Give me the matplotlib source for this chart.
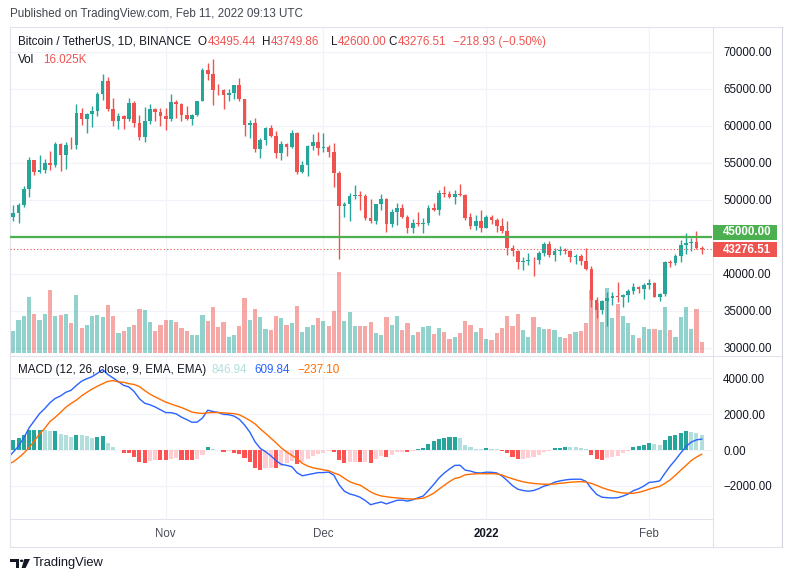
import numpy as np
import pandas as pd
import matplotlib
matplotlib.use("Agg")
import matplotlib.pyplot as plt
from matplotlib import transforms
from matplotlib.patches import Rectangle, Polygon, Circle
from matplotlib.lines import Line2D
from matplotlib.ticker import FuncFormatter

plt.rcParams["font.family"] = ["Liberation Sans", "DejaVu Sans"]

# BTCUSDT daily, 2021-10-02 .. 2022-02-11
dates = pd.date_range("2021-10-02", "2022-02-11", freq="D")

opens = [
    48141, 47634, 48200, 49225, 51471, 55315, 53785, 53955, 54942, 54659,
    57471, 55996, 57370, 57347, 61672, 60875, 61528, 62005, 64280, 66002,
    62193, 60689, 61287, 60852, 63078, 60329, 58413, 60575, 62254, 61859,
    61300, 60911, 63254, 62896, 61395, 60940, 61470, 63273, 67525, 66947,
    64883, 64774, 64123, 64380, 65520, 63607, 60059, 60345, 56892, 58052,
    59707, 58617, 56248, 57541, 57138, 58960, 53723, 54716, 57274, 57777,
    56950, 57184, 56485, 53601, 49152, 49397, 50441, 50589, 50471, 47535,
    47140, 49389, 50053, 46702, 48336, 48864, 47633, 46134, 46834, 46682,
    46908, 48887, 48588, 50838, 50821, 50428, 50802, 50679, 47623, 46490,
    47120, 46216, 47722, 47276, 46459, 45833, 43451, 43081, 41561, 41734,
    41865, 41821, 42735, 43946, 42591, 43099, 43172, 43118, 42250, 42374,
    41744, 40699, 36471, 35030, 36276, 36655, 36950, 36807, 37160, 37716,
    38166, 37918, 38467, 38690, 36897, 37306, 41571, 41382, 42380, 43840,
    44096, 44338, 43495.44,
]
highs = [
    48336, 49229, 49536, 51887, 55750, 55332, 56100, 55489, 56561, 57839,
    57680, 57777, 58532, 62933, 62350, 61718, 62695, 64486, 67000, 66639,
    63732, 61747, 61500, 63710, 63293, 61497, 62499, 62980, 62359, 62405,
    62437, 64270, 63516, 63086, 62595, 61560, 63286, 67789, 68524, 69000,
    65600, 65000, 65000, 65550, 66401, 63617, 60823, 60977, 58364, 59846,
    60029, 59266, 57875, 57700, 59398, 59180, 55281, 57445, 58865, 59176,
    59053, 57375, 57600, 53859, 49699, 50891, 51936, 51200, 50797, 50125,
    49485, 50797, 50189, 48700, 49500, 49436, 47995, 47392, 48300, 47537,
    49328, 49576, 51375, 51810, 51156, 51280, 52088, 50704, 48142, 47879,
    48548, 47954, 47990, 47570, 47505, 47070, 43817, 43145, 42300, 42786,
    42248, 43100, 44350, 44459, 43448, 43800, 43476, 43180, 42665, 42600,
    43505, 41100, 36835, 36500, 37550, 37545, 38920, 37234, 38000, 38720,
    38359, 38744, 39265, 38834, 37387, 41772, 41913, 42656, 44500, 45492,
    44799, 45821, 43749.86,
]
lows = [
    47430, 47093, 46888, 49057, 50382, 53357, 53617, 53661, 54080, 54415,
    53879, 54167, 56818, 56850, 60150, 58963, 59844, 61322, 63481, 62000,
    60000, 59562, 59510, 60650, 59817, 58000, 57820, 60174, 60673, 59945,
    59405, 60624, 61000, 60677, 60721, 60050, 61322, 63273, 66222, 62822,
    64100, 62278, 63360, 63576, 63400, 58574, 58373, 56474, 55600, 57354,
    58486, 55610, 55317, 55888, 57000, 53500, 53610, 53256, 56666, 56000,
    56458, 55777, 51680, 42000, 47727, 47100, 50039, 48600, 47320, 46852,
    46751, 48650, 45672, 46290, 46547, 47511, 45456, 45500, 46406, 45558,
    46630, 48421, 47920, 50384, 50171, 49412, 50450, 47313, 46096, 45900,
    45678, 46208, 46654, 45696, 45502, 42500, 42430, 40610, 40501, 41200,
    39650, 41269, 42450, 42311, 41725, 42578, 42691, 41540, 41250, 41138,
    40553, 35440, 34008, 34601, 32917, 35705, 36234, 35507, 36155, 37268,
    37351, 36632, 38000, 36832, 36250, 37026, 40843, 41116, 41645, 42666,
    43117, 43328, 42600.00,
]
closes = [
    47634, 48200, 49224, 51471, 55315, 53785, 53951, 54950, 54659, 57471,
    55996, 57367, 57347, 61672, 60875, 61528, 62010, 64280, 66001, 62193,
    60688, 61286, 60852, 63078, 60329, 58413, 60575, 62253, 61859, 61300,
    60911, 63220, 62896, 61395, 60937, 61470, 63273, 67525, 66947, 64882,
    64774, 64122, 64380, 65520, 63607, 60059, 60345, 56892, 58052, 59707,
    58623, 56248, 57541, 57138, 58960, 53726, 54721, 57274, 57776, 56950,
    57184, 56480, 53602, 49152, 49396, 50441, 50588, 50471, 47545, 47140,
    49389, 50053, 46702, 48343, 48864, 47632, 46131, 46834, 46681, 46914,
    48890, 48588, 50838, 50821, 50429, 50809, 50640, 47588, 46464, 47120,
    46216, 47722, 47286, 46446, 45832, 43451, 43082, 41566, 41679, 41864,
    41822, 42735, 43949, 42592, 43099, 43177, 43113, 42250, 42375, 41744,
    40681, 36445, 35071, 36276, 36654, 36954, 36809, 37160, 37716, 38166,
    37881, 38466, 38690, 36896, 37311, 41575, 41382, 42380, 43840, 44118,
    44338, 43495.44, 43276.51,
]
# volume in thousands of BTC
volumes = [
    30.0,
    30.6, 45.6, 51.1, 77.1, 53.8, 45.6, 53.8, 86.7, 51.1, 52.5,
    53.8, 41.5, 79.9, 34.7, 38.8, 51.1, 52.5, 49.7, 66.2, 51.1,
    27.8, 30.6, 36.0, 38.8, 60.7, 59.3, 42.9, 30.6, 38.8, 45.6,
    45.6, 42.9, 34.7, 30.6, 25.1, 25.1, 52.5, 44.3, 63.4, 36.0,
    42.9, 22.3, 25.1, 37.4, 76.3, 45.6, 61.2, 49.7, 33.3, 31.9,
    51.1, 48.4, 38.8, 41.5, 64.8, 29.2, 36.0, 38.8, 48.4, 44.3,
    37.4, 58.0, 111.4, 44.3, 56.6, 37.4, 37.4, 37.4, 42.9, 27.8,
    25.1, 49.7, 38.8, 51.1, 31.9, 41.5, 25.1, 29.2, 36.0, 37.4,
    26.4, 34.7, 29.2, 19.6, 22.3, 27.8, 44.3, 38.8, 29.2, 34.7,
    19.6, 18.2, 27.8, 34.7, 51.1, 37.4, 53.8, 31.9, 22.3, 49.7,
    36.0, 33.3, 33.3, 31.9, 22.3, 21.0, 26.4, 29.2, 30.6, 41.5,
    86.7, 68.9, 42.9, 89.5, 48.4, 67.5, 51.1, 41.5, 25.1, 21.0,
    36.0, 33.3, 33.3, 31.9, 63.4, 31.9, 22.3, 49.7, 63.4, 33.3,
    60.7, 16.025,
]
macd_line = [
    -430,
    -113, 224, 675, 1237, 1635, 2037, 2318, 2650, 2888, 3025,
    3227, 3338, 3610, 3847, 3986, 4100, 4287, 4500, 4217, 4025,
    3817, 3613, 3524, 3267, 2864, 2614, 2528, 2405, 2249, 2092,
    2087, 2019, 1837, 1700, 1550, 1560, 1790, 2225, 2150, 2100,
    1990, 1975, 1895, 1720, 1400, 1003, 460, 90, -95, -320,
    -597, -802, -857, -934, -1271, -1440, -1381, -1320, -1263, -1263,
    -1232, -1407, -1942, -2303, -2455, -2533, -2642, -2831, -3057, -2975,
    -2906, -3013, -2912, -2811, -2799, -2855, -2787, -2673, -2573, -2258,
    -1925, -1566, -1290, -1063, -860, -851, -1126, -1176, -1271, -1283,
    -1239, -1245, -1283, -1453, -1711, -1994, -2189, -2264, -2302, -2265,
    -2160, -2015, -1940, -1800, -1727, -1675, -1640, -1632, -1632, -1755,
    -2151, -2478, -2635, -2667, -2680, -2667, -2579, -2459, -2271, -2164,
    -2013, -1812, -1780, -1730, -1302, -899, -553, -170, 189, 440,
    566, 609.84,
]
signal_line = [
    -800,
    -662, -437, -175, 125, 515, 898, 1219, 1600, 1832, 2105,
    2393, 2602, 2790, 3028, 3224, 3410, 3563, 3705, 3840, 3880,
    3803, 3787, 3706, 3663, 3546, 3326, 3122, 2965, 2821, 2678,
    2573, 2471, 2373, 2250, 2120, 2070, 2045, 2080, 2095, 2095,
    2075, 2050, 2035, 1970, 1820, 1657, 1460, 1180, 930, 665,
    402, 117, -108, -296, -484, -745, -894, -995, -1052, -1107,
    -1158, -1283, -1383, -1582, -1770, -1882, -1962, -2151, -2340, -2479,
    -2566, -2610, -2654, -2680, -2711, -2730, -2742, -2723, -2691, -2573,
    -2415, -2189, -1975, -1767, -1593, -1527, -1383, -1353, -1333, -1321,
    -1327, -1321, -1340, -1396, -1516, -1610, -1698, -1774, -1830, -1868,
    -1890, -1915, -1912, -1900, -1862, -1836, -1800, -1786, -1767, -1793,
    -1868, -1975, -2101, -2202, -2283, -2353, -2402, -2409, -2421, -2365,
    -2289, -2189, -2106, -2032, -1868, -1667, -1409, -1132, -868, -591,
    -396, -237.10,
]
month_starts = ["2021-11-01", "2021-12-01", "2022-01-01", "2022-02-01"]
month_labels = ["Nov", "Dec", "2022", "Feb"]
price_levels = [30000, 35000, 40000, 45000, 50000, 55000, 60000, 65000, 70000]
macd_levels = [4000, 2000, 0, -2000]
alert_level = 45000

UP = "#26a69a"
DOWN = "#ef5350"
DARK = "#131722"
GRID = "#f0f3fa"
FRAME = "#e0e3eb"

W, H = 793, 582
fig = plt.figure(figsize=(W / 100, H / 100), dpi=100)
fig.patch.set_facecolor("white")


def px(x, y):
    return x / W, 1 - y / H


def rect(x0, y0, x1, y1):
    return [x0 / W, 1 - y1 / H, (x1 - x0) / W, (y1 - y0) / H]


def signed(v):
    return f"{v:.2f}".replace("-", "\u2212")


x = np.arange(len(dates))
o, h, l, c = map(np.array, (opens, highs, lows, closes))
vol = np.array(volumes)
macd = np.array(macd_line)
sig = np.array(signal_line)
hist = macd - sig
tick_idx = [dates.get_loc(pd.Timestamp(d)) for d in month_starts]
xlim = (0.37, 133.96)

# ---- price pane ----
ax = fig.add_axes(rect(10, 27, 712, 355))
axv = ax.twinx()
ax.set_zorder(2)
ax.patch.set_visible(False)
axv.set_zorder(1)

ax.set_xlim(*xlim)
ax.set_ylim(29014, 73337)
axv.set_ylim(-2.33, 447.0)

grid_tr = transforms.blended_transform_factory(axv.transAxes, ax.transData)
for p in price_levels:
    axv.plot([0, 1], [p, p], transform=grid_tr, color=GRID, lw=0.9, zorder=0)
for t in tick_idx:
    axv.axvline(t, color=GRID, lw=0.9, zorder=0)

up = c >= o
vcol = [(38 / 255, 166 / 255, 154 / 255, 0.5) if u else (239 / 255, 83 / 255, 80 / 255, 0.5) for u in up]
axv.bar(x, vol, width=0.8, color=vcol, linewidth=0, zorder=1)

ccol = np.where(up, UP, DOWN)
ax.vlines(x, l, h, colors=ccol, lw=1.0, zorder=3)
body = np.maximum(np.abs(c - o), 90)
ax.bar(x, body, bottom=np.minimum(o, c), width=0.7, color=ccol, linewidth=0, zorder=4)

ax.axhline(alert_level, color="#4caf50", lw=1.6, zorder=5)
ax.axhline(c[-1], color=DOWN, lw=0.8, ls=(0, (1, 2)), zorder=5)

ax.yaxis.tick_right()
ax.set_yticks([p for p in price_levels if p != alert_level])
ax.yaxis.set_major_formatter(FuncFormatter(lambda v, pos: f"{v:.2f}"))
ax.tick_params(axis="y", length=0, pad=8, labelsize=8.3, labelcolor=DARK)
ax.tick_params(axis="x", bottom=False, labelbottom=False)
axv.set_yticks([])
axv.tick_params(right=False, labelright=False)
for a in (ax, axv):
    for s in a.spines.values():
        s.set_visible(False)

# ---- MACD pane ----
axm = fig.add_axes(rect(10, 356, 712, 519))
axm.set_xlim(*xlim)
axm.set_ylim(-3856, 5254)
for lv in macd_levels:
    axm.axhline(lv, color=GRID, lw=0.9, zorder=0)
for t in tick_idx:
    axm.axvline(t, color=GRID, lw=0.9, zorder=0)

prev = np.r_[hist[0], hist[:-1]]
hcol = np.where(hist >= 0,
                np.where(hist >= prev, "#26a69a", "#b2dfdb"),
                np.where(hist < prev, "#ff5252", "#ffcdd2"))
axm.bar(x, hist, width=0.78, color=hcol, linewidth=0, zorder=2)
axm.plot(x, macd, color="#2962ff", lw=1.0, zorder=3)
axm.plot(x, sig, color="#ff6d00", lw=1.0, zorder=3)

axm.yaxis.tick_right()
axm.set_yticks(macd_levels)
axm.yaxis.set_major_formatter(FuncFormatter(lambda v, pos: signed(v)))
axm.tick_params(axis="y", length=0, pad=8, labelsize=8.3, labelcolor=DARK)
axm.set_xticks(tick_idx)
axm.set_xticklabels(month_labels)
axm.tick_params(axis="x", length=0, pad=6.5, labelsize=8.3, labelcolor="#4a4d57")
axm.get_xticklabels()[2].set_fontweight("bold")
axm.get_xticklabels()[2].set_color(DARK)
for s in axm.spines.values():
    s.set_visible(False)

# ---- price scale labels ----
def scale_box(value, color, shift):
    yd = ax.transData.transform((0, value))[1] + shift
    fig.add_artist(Rectangle((713 / W, (yd - 7.5) / H), 64 / W, 15 / H,
                             transform=fig.transFigure, fc=color, ec="none", zorder=10))
    fig.text(723 / W, yd / H, f"{value:.2f}", color="white", fontsize=8.3,
             fontweight="bold", va="center", ha="left", zorder=11)


scale_box(alert_level, "#4caf50", 4.5)
scale_box(c[-1], DOWN, -0.5)

# ---- frame ----
def hline(x0, x1, y, color=FRAME):
    fig.add_artist(Line2D([x0 / W, x1 / W], [1 - y / H, 1 - y / H], color=color, lw=0.8))


def vline(xp, y0, y1, color=FRAME):
    fig.add_artist(Line2D([xp / W, xp / W], [1 - y0 / H, 1 - y1 / H], color=color, lw=0.8))


hline(10, 782, 27)
hline(10, 782, 546.5)
hline(10, 782, 355.5)
hline(10, 712, 519)
vline(10, 27, 546.5)
vline(782, 27, 546.5, "#d1d4dc")
vline(712.5, 27, 546.5)

# ---- text ----
def label(xp, yp, s, color=DARK, size=8.4, **kw):
    return fig.text(*px(xp, yp), s, color=color, fontsize=size, va="center", **kw)


label(10, 14.5, "Published on TradingView.com, Feb 11, 2022 09:13 UTC", color="#434651")

ly = 42
val_col = DOWN if c[-1] < o[-1] else UP
label(18, ly, "Bitcoin / TetherUS, 1D, BINANCE")
for letter, val, xn in [("O", o[-1], 207.5), ("H", h[-1], 271), ("L", l[-1], 338), ("C", c[-1], 397.5)]:
    label(xn - 0.5, ly, letter, ha="right")
    label(xn, ly, f"{val:.2f}", color=val_col)
chg = c[-1] - c[-2]
label(453, ly, f"{signed(chg)} ({signed(chg / c[-2] * 100)}%)", color=val_col)
label(18, 60, "Vol")
label(43, 60, f"{vol[-1]:.3f}K", color=val_col)

my = 370
label(18, my, "MACD (12, 26, close, 9, EMA, EMA)")
label(212, my, signed(hist[-1]), color=hcol[-1])
label(254.7, my, signed(macd[-1]), color="#2962ff")
label(297.3, my, signed(sig[-1]), color="#ff6d00")

# footer logo
def poly(points, **kw):
    fig.add_artist(Polygon([px(a, b) for a, b in points], closed=True,
                           transform=fig.transFigure, **kw))


poly([(10, 559), (19, 559), (19, 568), (15.5, 568), (15.5, 562.4), (10, 562.4)], fc=DARK, ec="none")
fig.add_artist(Circle(px(21.6, 560.8), 1.7 / W, transform=fig.transFigure, fc=DARK, ec="none"))
poly([(24.3, 559), (30, 559), (25.6, 568), (21.6, 568)], fc=DARK, ec="none")
label(33, 563, "TradingView", size=9.3)

fig.savefig("out.png", dpi=100, facecolor="white")
